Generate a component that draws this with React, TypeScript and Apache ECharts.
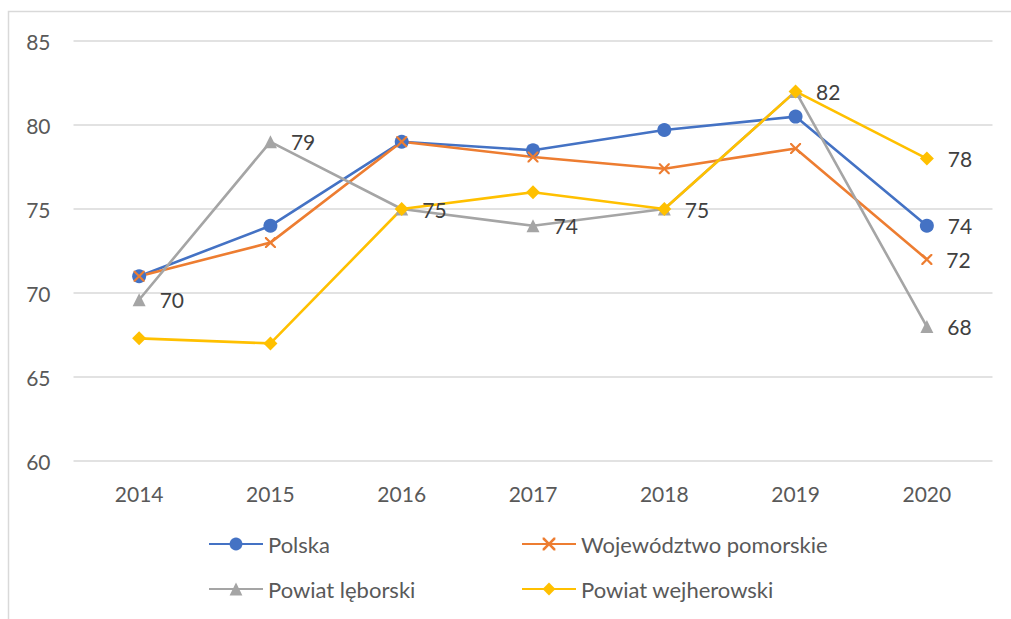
import React, { useEffect, useRef } from "react";
import * as echarts from "echarts";

const years = ["2014", "2015", "2016", "2017", "2018", "2019", "2020"];
const polska = [71.0, 74.0, 79.0, 78.5, 79.7, 80.5, 74.0];
const pomorskie = [71.0, 73.0, 79.0, 78.1, 77.4, 78.6, 72.0];
const leborski = [69.6, 79.0, 75.0, 74.0, 75.0, 82.0, 68.0];
const wejherowski = [67.3, 67.0, 75.0, 76.0, 75.0, 82.0, 78.0];
const yTicks = { min: 60, max: 85, interval: 5 };

const FONT = "Lato, 'Noto Sans', sans-serif";
const X_PATH =
  "path://M0,0 L1.4,0 L5,3.6 L8.6,0 L10,0 L10,1.4 L6.4,5 L10,8.6 L10,10 L8.6,10 L5,6.4 L1.4,10 L0,10 L0,8.6 L3.6,5 L0,1.4 Z";

export default function App() {
  const ref = useRef<HTMLDivElement>(null);
  useEffect(() => {
    if (!ref.current) return;
    const chart = echarts.init(ref.current, null, { renderer: "svg" });
    const labelStyle = {
      show: true,
      position: "right" as const,
      distance: 14,
      fontFamily: FONT,
      fontSize: 21,
      color: "#404040",
      formatter: (p: any) => String(Math.round(p.value)),
    };
    const lastOnly = (arr: number[]) =>
      arr.map((v, i) => (i === arr.length - 1 ? { value: v, label: labelStyle } : v));
    const mk = (name: string, data: any[], color: string, symbol: string, size: number, extra: any = {}) => ({
      name,
      type: "line",
      data,
      symbol,
      symbolSize: size,
      showAllSymbol: true,
      lineStyle: { color, width: 2.6 },
      itemStyle: { color },
      label: { show: false },
      emphasis: { disabled: true },
      ...extra,
    });
    const legendBase = {
      orient: "vertical",
      top: 533,
      padding: 0,
      itemWidth: 54,
      itemHeight: 16,
      itemGap: 23,
      textStyle: { fontFamily: FONT, fontSize: 22, color: "#595959" },
      selectedMode: false,
    };
    chart.setOption({
      animation: false,
      graphic: [
        {
          type: "rect",
          shape: { x: 8.5, y: 11.5, width: 1200, height: 800 },
          style: { fill: "none", stroke: "#D9D9D9", lineWidth: 1.5 },
          silent: true,
        },
      ],
      grid: { left: 73.5, right: 18.5, top: 41, bottom: 158 },
      xAxis: {
        type: "category",
        data: years,
        boundaryGap: true,
        axisLine: { show: false },
        axisTick: { show: false },
        axisLabel: { fontFamily: FONT, fontSize: 21, color: "#595959", margin: 22 },
      },
      yAxis: {
        type: "value",
        min: yTicks.min,
        max: yTicks.max,
        interval: yTicks.interval,
        axisLine: { show: false },
        axisTick: { show: false },
        axisLabel: { fontFamily: FONT, fontSize: 21, color: "#595959", margin: 23 },
        splitLine: { lineStyle: { color: "#D9D9D9", width: 1.5 } },
      },
      legend: [
        { ...legendBase, data: ["Polska", "Powiat lęborski"], left: 208 },
        { ...legendBase, data: ["Województwo pomorskie", "Powiat wejherowski"], left: 521 },
      ],
      series: [
        mk("Polska", lastOnly(polska), "#4472C4", "circle", 14),
        mk("Województwo pomorskie", lastOnly(pomorskie), "#ED7D31", X_PATH, 11),
        mk("Powiat lęborski", leborski, "#A5A5A5", "triangle", 13, { label: labelStyle }),
        mk("Powiat wejherowski", lastOnly(wejherowski), "#FFC000", "diamond", 14),
      ],
    });
    return () => chart.dispose();
  }, []);
  return (
    <div
      ref={ref}
      style={{ position: "fixed", left: 0, top: 0, width: 1011, height: 619, background: "#fff" }}
    />
  );
}
